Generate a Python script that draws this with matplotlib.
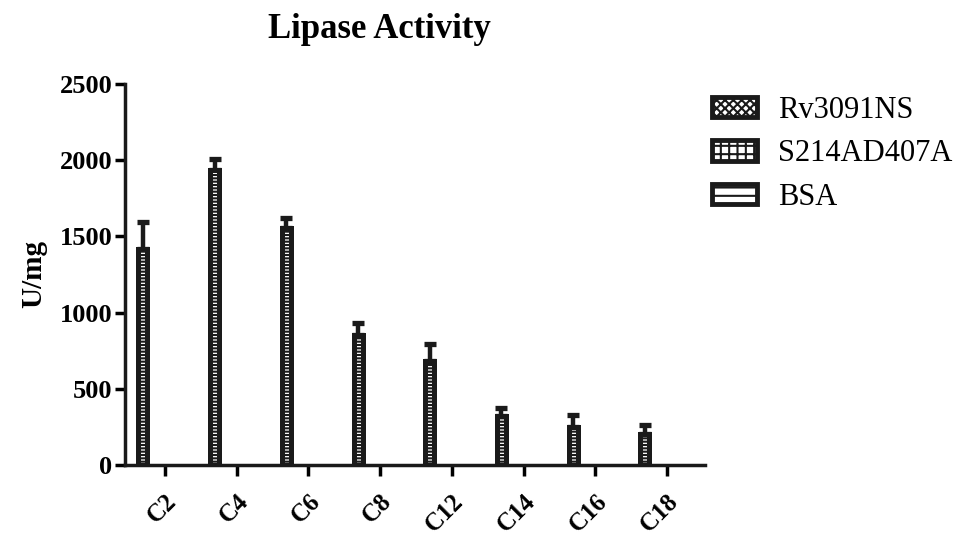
import numpy as np
import matplotlib.pyplot as plt
from matplotlib.patches import Patch

# Data
substrates = ['C2', 'C4', 'C6', 'C8', 'C12', 'C14', 'C16', 'C18']
rv3091ns = [1420, 1935, 1555, 850, 680, 320, 250, 205]
rv3091ns_err = [175, 70, 65, 85, 115, 55, 75, 58]
s214ad407a = [0, 0, 0, 0, 0, 0, 0, 0]
bsa = [0, 0, 0, 0, 0, 0, 0, 0]
series_names = ['Rv3091NS', 'S214AD407A', 'BSA']

plt.rcParams['font.family'] = ['Liberation Serif', 'DejaVu Serif']
plt.rcParams['hatch.linewidth'] = 1.5

fig = plt.figure(figsize=(9.75, 5.49), dpi=100)
ax = fig.add_axes([0.128, 0.153, 0.595, 0.694])

x = np.arange(len(substrates))
w = 0.125
off = 0.307
dark = '#1a1a1a'

ax.bar(x - off, rv3091ns, width=w, facecolor='white', edgecolor=dark,
       linewidth=3.6, hatch='-----', zorder=3)
ax.bar(x, s214ad407a, width=w, facecolor='white', edgecolor=dark,
       linewidth=0, hatch='++', zorder=3)
ax.bar(x + off, bsa, width=w, facecolor='white', edgecolor=dark,
       linewidth=0, hatch='--', zorder=3)
ax.errorbar(x - off, rv3091ns, yerr=[np.zeros(len(x)), rv3091ns_err], fmt='none',
            ecolor=dark, elinewidth=3.2, capsize=4, capthick=3.8, zorder=2)

ax.set_ylim(0, 2500)
ax.set_xlim(-0.56, 7.53)
ax.set_yticks([0, 500, 1000, 1500, 2000, 2500])
ax.set_xticks(x)
ax.set_xticklabels(substrates, rotation=45, ha='right', rotation_mode='anchor',
                   fontsize=18, fontweight='bold')
for lab in ax.get_yticklabels():
    lab.set_fontweight('bold')
ax.tick_params(axis='y', labelsize=19, width=2.5, length=7, direction='out', pad=2)
ax.tick_params(axis='x', width=2.5, length=8, direction='out', pad=10)
ax.set_ylabel('U/mg', fontsize=21, fontweight='bold', labelpad=9)

for side in ['top', 'right']:
    ax.spines[side].set_visible(False)
for side in ['left', 'bottom']:
    ax.spines[side].set_linewidth(2.5)
    ax.spines[side].set_color(dark)

fig.text(0.389, 0.947, 'Lipase Activity', ha='center', va='center',
         fontsize=25, fontweight='bold')

handles = [
    Patch(facecolor='white', edgecolor=dark, linewidth=3.5, hatch='xxxx'),
    Patch(facecolor='white', edgecolor=dark, linewidth=3.5, hatch='++'),
    Patch(facecolor='white', edgecolor=dark, linewidth=3.5, hatch='--'),
]
fig.legend(handles, series_names, loc='upper left', bbox_to_anchor=(0.718, 0.848),
           frameon=False, fontsize=22, handlelength=1.45, handleheight=0.65,
           labelspacing=0.48, handletextpad=0.7, borderaxespad=0)

plt.savefig('out.png', dpi=100)
